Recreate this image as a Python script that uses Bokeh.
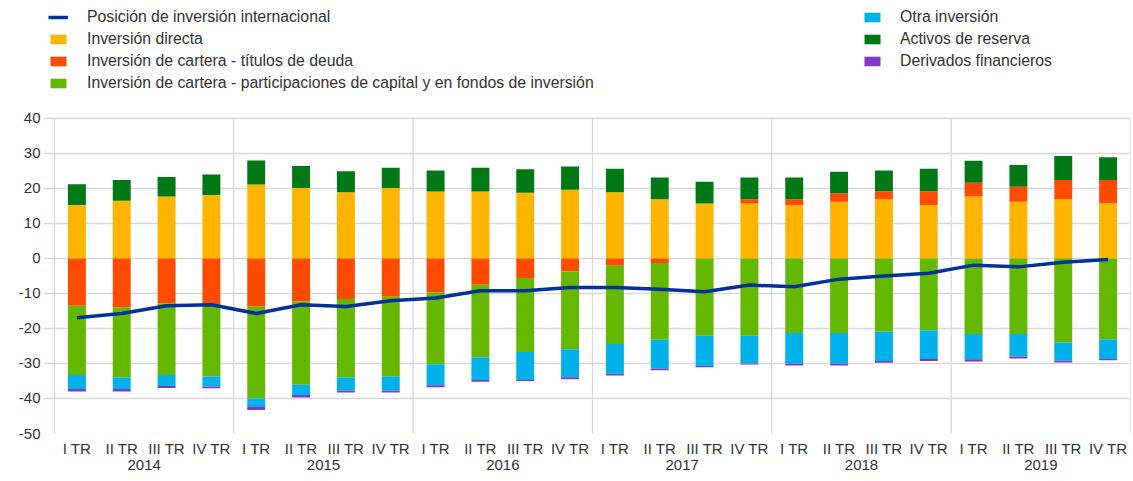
import numpy as np
from bokeh.plotting import figure
from bokeh.models import Range1d, Legend, LegendItem, FixedTicker, ColumnDataSource, LinearAxis
from bokeh.embed import file_html
from bokeh.resources import INLINE

years = ["2014", "2015", "2016", "2017", "2018", "2019"]
quarters = ["I TR", "II TR", "III TR", "IV TR"]

# Posición de inversión internacional (% PIB)
iip = [-16.9, -15.7, -13.5, -13.2, -15.7, -13.2, -13.7, -12.1,
       -11.3, -9.2, -9.2, -8.3, -8.3, -8.8, -9.5, -7.6,
       -8.1, -5.9, -5.0, -4.2, -1.9, -2.4, -1.1, -0.3]
# Inversión directa
fdi = [15.3, 16.5, 17.7, 18.1, 21.1, 20.1, 18.9, 20.1,
       19.1, 19.1, 18.8, 19.6, 18.9, 16.9, 15.7, 15.7,
       15.3, 16.2, 16.9, 15.3, 17.7, 16.2, 16.9, 15.8]
# Inversión de cartera - títulos de deuda
debt = [-13.5, -14.0, -12.8, -13.0, -13.8, -12.3, -11.6, -10.9,
        -9.7, -7.5, -5.6, -3.7, -2.1, -1.3, 0.0, 1.2,
        1.6, 2.4, 2.3, 3.9, 3.9, 4.3, 5.5, 6.6]
# Inversión de cartera - participaciones de capital y en fondos de inversión
equity = [-19.8, -20.0, -20.5, -20.7, -26.2, -23.8, -22.4, -22.8,
          -20.5, -20.8, -21.1, -22.2, -22.3, -21.9, -22.1, -22.1,
          -21.3, -21.3, -20.9, -20.5, -21.6, -21.6, -24.0, -23.1]
# Otra inversión
other = [-4.0, -3.3, -3.1, -2.9, -2.4, -2.9, -3.8, -4.1,
         -6.0, -6.4, -8.0, -8.0, -8.5, -8.3, -8.6, -7.9,
         -8.8, -8.8, -8.4, -8.2, -7.2, -6.4, -5.2, -5.6]
# Activos de reserva
reserves = [5.9, 5.9, 5.6, 5.9, 6.9, 6.3, 6.0, 5.8,
            6.0, 6.8, 6.7, 6.7, 6.7, 6.2, 6.2, 6.2,
            6.2, 6.2, 5.9, 6.4, 6.3, 6.2, 6.9, 6.5]
# Derivados financieros
derivatives = [-0.7, -0.7, -0.6, -0.5, -0.9, -0.7, -0.5, -0.5,
               -0.6, -0.5, -0.3, -0.6, -0.5, -0.4, -0.4, -0.3,
               -0.5, -0.5, -0.5, -0.6, -0.6, -0.6, -0.5, -0.4]

names = {
    "iip": "Posición de inversión internacional",
    "fdi": "Inversión directa",
    "debt": "Inversión de cartera - títulos de deuda",
    "equity": "Inversión de cartera - participaciones de capital y en fondos de inversión",
    "other": "Otra inversión",
    "reserves": "Activos de reserva",
    "derivatives": "Derivados financieros",
}
colors = {
    "iip": "#003299", "fdi": "#FFB400", "debt": "#FF4B00", "equity": "#65B800",
    "other": "#00B1EA", "reserves": "#007816", "derivatives": "#8139C6",
}

nq = len(quarters)
n = len(years) * nq
xs = np.arange(n) + 0.5                      # bar centres (one unit per quarter)
q_labels = [q for _ in years for q in quarters]
year_centres = [i * nq + nq / 2 for i in range(len(years))]
bounds = [i * nq for i in range(len(years) + 1)]

FONT = "Liberation Sans"
TXT = "#333333"
GRID = "#d9d9d9"

W, H = 1133, 481
FL, FR, FB = 43, 3, 48           # frame borders (px)
p = figure(width=W, height=H, output_backend="svg", toolbar_location=None, title=None,
           x_range=Range1d(-0.245, n), y_range=Range1d(-50, 73.7),
           min_border_left=FL, min_border_right=FR, min_border_top=0, min_border_bottom=FB)
p.outline_line_color = None

# vertical borders / year separators
p.segment(x0=bounds, y0=-50, x1=bounds, y1=40, line_color=GRID, line_width=1.3)

series = [("fdi", fdi), ("debt", debt), ("reserves", reserves),
          ("equity", equity), ("other", other), ("derivatives", derivatives)]
pos_base = np.zeros(n)
neg_base = np.zeros(n)
renderers = {}
for key, vals in series:
    v = np.array(vals, dtype=float)
    bottom = np.where(v >= 0, pos_base, neg_base + v)
    top = np.where(v >= 0, pos_base + v, neg_base)
    pos_base = pos_base + np.where(v >= 0, v, 0)
    neg_base = neg_base + np.where(v < 0, v, 0)
    src = ColumnDataSource(dict(x=xs, bottom=bottom, top=top))
    renderers[key] = p.vbar(x="x", bottom="bottom", top="top", width=0.4, source=src,
                            fill_color=colors[key], line_color=None)

renderers["iip"] = p.line(x=xs, y=iip, line_color=colors["iip"], line_width=3.5)

# grid / axes
p.xgrid.visible = False
yticks = list(range(-50, 41, 10))
p.yaxis.ticker = FixedTicker(ticks=yticks)
p.ygrid.ticker = FixedTicker(ticks=yticks)
p.ygrid.grid_line_color = GRID
p.ygrid.grid_line_width = 1.3
p.yaxis.major_label_overrides = {t: str(t) for t in yticks}
p.yaxis.major_label_standoff = 3

p.xaxis.ticker = FixedTicker(ticks=list(xs))
p.xaxis.major_label_overrides = {float(x): lab for x, lab in zip(xs, q_labels)}
p.xaxis.major_label_standoff = 6

year_axis = LinearAxis(ticker=FixedTicker(ticks=year_centres),
                       major_label_overrides={float(x): y for x, y in zip(year_centres, years)},
                       major_label_standoff=0)
p.add_layout(year_axis, "below")

for ax in (p.xaxis[0], p.yaxis[0], year_axis):
    ax.axis_line_color = None
    ax.major_tick_line_color = None
    ax.minor_tick_line_color = None
    ax.major_tick_in = 0
    ax.major_tick_out = 0
    ax.minor_tick_in = 0
    ax.minor_tick_out = 0
    ax.major_label_text_font = FONT
    ax.major_label_text_font_size = "15px"
    ax.major_label_text_color = TXT

frame_bottom = H - FB


def make_legend(keys, x_page, top_page, standoff):
    items = [LegendItem(label=names[k], renderers=[renderers[k]]) for k in keys]
    rows = len(keys)
    h = rows * 18 + (rows - 1) * 4
    return Legend(items=items, location=(x_page - FL, frame_bottom - (top_page + h)),
                  orientation="vertical", padding=0, margin=0, spacing=4,
                  label_height=18, glyph_height=12, glyph_width=20, label_standoff=standoff,
                  border_line_color=None, background_fill_alpha=0,
                  label_text_font=FONT, label_text_font_size="15.8px", label_text_color=TXT)


p.add_layout(make_legend(["iip", "fdi", "debt", "equity"], 48, 8, 19))
p.add_layout(make_legend(["other", "reserves", "derivatives"], 862, 8, 18))

open("out.html", "w").write(file_html(p, INLINE))
